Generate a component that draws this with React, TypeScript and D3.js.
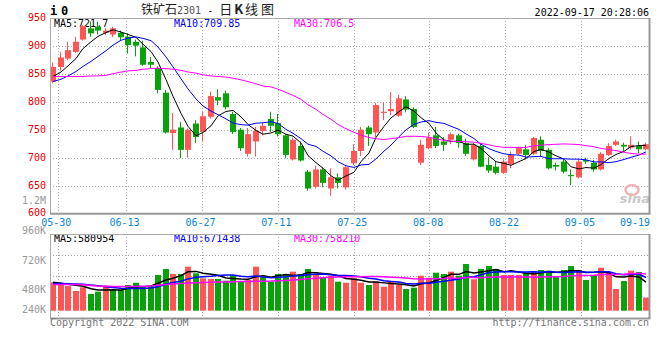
import React from "react";
import * as d3 from "d3";

const dates = [
  "05-27","05-30","05-31","06-01","06-02","06-06","06-07","06-08","06-09","06-10",
  "06-13","06-14","06-15","06-16","06-17","06-20","06-21","06-22","06-23","06-24",
  "06-27","06-28","06-29","06-30","07-01","07-04","07-05","07-06","07-07","07-08",
  "07-11","07-12","07-13","07-14","07-15","07-18","07-19","07-20","07-21","07-22",
  "07-25","07-26","07-27","07-28","07-29","08-01","08-02","08-03","08-04","08-05",
  "08-08","08-09","08-10","08-11","08-12","08-15","08-16","08-17","08-18","08-19",
  "08-22","08-23","08-24","08-25","08-26","08-29","08-30","08-31","09-01","09-02",
  "09-05","09-06","09-07","09-08","09-09","09-13","09-14","09-15","09-16","09-19",
];
const opens = [
  836,862,877,889,911,931,934,923,920,923,
  916,907,897,871,860,816,744,754,714,761,
  746,773,808,815,778,750,707,729,748,769,
  762,740,697,721,675,648,679,645,665,647,
  690,712,754,745,780,783,775,804,787,691,
  717,740,729,732,740,726,697,721,687,684,
  673,689,707,715,707,732,714,687,693,669,
  665,696,691,679,705,723,723,718,721,715,
];
const highs = [
  870,889,907,916,937,943,943,931,934,927,
  922,911,909,880,863,821,780,764,752,767,
  782,818,822,820,782,753,753,755,762,782,
  778,742,736,729,678,685,683,681,672,685,
  724,755,757,798,798,817,812,810,790,732,
  745,755,737,745,743,734,726,726,701,694,
  697,711,720,723,737,738,717,691,696,679,
  697,700,696,710,726,732,727,738,729,727,
];
const lows = [
  833,855,874,887,909,916,920,919,915,910,
  886,881,864,860,815,743,714,699,700,726,
  730,770,794,786,742,712,702,702,740,746,
  738,699,695,693,641,645,647,632,645,643,
  687,703,721,737,767,776,773,781,753,687,
  715,717,712,724,718,703,695,683,673,670,
  671,681,705,697,705,703,679,677,672,651,
  663,689,675,677,703,721,711,715,708,713,
];
const closes = [
  862,879,892,907,935,922,927,927,931,915,
  901,900,866,866,821,745,750,714,750,737,
  774,810,802,790,746,717,742,748,757,757,
  742,705,732,695,645,679,655,665,655,683,
  712,750,742,794,782,787,806,786,755,723,
  736,721,723,742,726,707,723,684,677,673,
  693,705,717,705,735,712,681,684,675,667,
  693,693,679,707,721,729,720,723,715,724,
];
// volume in thousands of lots
const volumes = [
  577,522,501,400,475,339,386,508,420,434,
  522,568,475,501,725,847,745,745,893,759,
  658,644,644,609,725,589,623,893,711,589,
  745,745,792,745,847,725,670,711,589,568,
  658,568,522,589,487,589,522,441,467,711,
  670,771,745,792,711,948,637,847,907,847,
  725,725,725,771,792,826,812,690,826,907,
  826,623,725,873,780,441,603,812,786,264,
];
// volume bar direction as coloured in the chart (1 = red, 0 = green)
const volumeUp = [
  1,1,1,1,1,0,0,1,0,0,
  0,0,0,0,0,0,1,0,1,0,
  1,1,0,0,0,0,1,1,0,0,
  0,0,1,0,0,1,0,1,0,1,
  1,1,0,1,1,1,1,0,0,1,
  1,0,0,1,0,0,1,0,0,0,
  1,1,1,0,1,0,0,0,0,0,
  1,0,0,1,1,1,0,1,0,1,
];
// moving-average values before enough in-window closes exist
const ma5Lead = [845, 853, 864, 877];
const ma10Lead = [836, 840, 846, 854, 863, 872, 881, 891, 901];
const ma30Lead = [845,845,845,845,845,846,846,847,850,853,855,856,858,859,860,859,858,856,853,851,848,846,845,844,842,839,836,832,828];
const vma5Lead = [577, 558, 538, 518];
const vma10Lead = [552, 552, 548, 544, 538, 524, 508, 487, 471];
const vma30Lead = [532,532,532,532,528,512,499,495,491,491,493,495,497,503,516,532,544,552,560,568,572,577,581,585,589,593,595,597,599];

const priceTicks = [950, 900, 850, 800, 750, 700, 650, 600];
const volTicks = [1200, 960, 720, 480, 240];
const volTickLabels = ["1.2M", "960K", "720K", "480K", "240K"];
const dateTicks = ["05-30","06-13","06-27","07-11","07-25","08-08","08-22","09-05","09-19"];

const maLabels = ["MA5:721.7", "MA10:709.85", "MA30:706.5"];
const vmaLabels = ["MA5:580954", "MA10:671438", "MA30:758210"];
const maColors = ["#000000", "#0000ff", "#ff00ff"];

function movingAvg(vals: number[], n: number, lead: number[]) {
  return vals.map((_, i) => (i < n - 1 ? lead[i] : (d3.mean(vals.slice(i - n + 1, i + 1)) as number)));
}

const MONO = "DejaVu Sans Mono, Liberation Mono, monospace";
const CJK = "Noto Sans CJK SC, sans-serif";
const RED = "#ff5555";
const GREEN = "#08a308";

export default function App() {
  const L = 50, R = 649.5;
  const MT = 18, MB = 213.7;
  const VT = 234, VB = 318.5, VBASE = 310.7;
  const n = dates.length;

  const x = d3.scaleBand<number>().domain(d3.range(n)).range([L, R]).paddingInner(0.2).paddingOuter(0);
  const gridX = d3.scaleLinear().domain([0, n - 1]).range([L, R]);
  const y = d3.scaleLinear().domain([600, 950]).range([MB, 17.7]);
  const vy = d3.scaleLinear().domain([0, 1557]).range([VBASE, VT]);
  const volLabelY = d3.scaleLinear().domain([240, 1200]).range([323, 204]);

  const bw = 6;
  const left = (i: number) => Math.round(x(i) as number);
  const cx = (i: number) => left(i) + 3;

  const ma = [movingAvg(closes, 5, ma5Lead), movingAvg(closes, 10, ma10Lead), movingAvg(closes, 30, ma30Lead)];
  const vma = [movingAvg(volumes, 5, vma5Lead), movingAvg(volumes, 10, vma10Lead), movingAvg(volumes, 30, vma30Lead)];

  const priceLine = d3.line<number>().x((_, i) => cx(i)).y((d) => y(d));
  const volLine = d3.line<number>().x((_, i) => cx(i)).y((d) => vy(d));

  const tickIdx = dateTicks.map((d) => dates.indexOf(d));
  const grid = "#aaaaaa";

  return (
    <svg width={660} height={360} style={{ position: "absolute", left: 0, top: 0, background: "#fff" }}>
      <rect x={0} y={0} width={660} height={360} fill="#fff" />
      {/* header */}
      <text x={50} y={15} fontFamily={MONO} fontSize={12} fontWeight="bold" fill="#000">i</text>
      <text x={61} y={15} fontFamily={MONO} fontSize={12} fontWeight="bold" fill="#000">0</text>
      <text x={141} y={14} fontFamily={CJK} fontSize={12} fill="#222">
        铁矿石
        <tspan fontFamily={MONO} fontSize={10} fill="#555">2301</tspan>
        <tspan fontFamily={MONO} fontSize={10} fill="#222"> - </tspan>
        <tspan fontSize={13} letterSpacing={2}>日</tspan>
        <tspan fontSize={13} fontWeight="bold" letterSpacing={2}>K</tspan>
        <tspan fontSize={13} letterSpacing={3}>线图</tspan>
      </text>
      <text x={649} y={16} textAnchor="end" fontFamily={MONO} fontSize={10} fill="#000">2022-09-17 20:28:06</text>

      {/* price grid */}
      {priceTicks.filter((t) => t < 950 && t > 600).map((t) => (
        <line key={"hg" + t} x1={L} x2={R} y1={Math.round(y(t)) + 0.5} y2={Math.round(y(t)) + 0.5} stroke={grid} strokeDasharray="1,2" />
      ))}
      {tickIdx.filter((i) => i > 0 && i < n - 1).map((i) => (
        <line key={"vg" + i} x1={Math.round(gridX(i)) + 0.5} x2={Math.round(gridX(i)) + 0.5} y1={MT} y2={MB} stroke={grid} strokeDasharray="1,2" />
      ))}
      {/* volume grid */}
      {[1, 2, 3].map((k) => {
        const yy = Math.round(VT + (k * (VB - VT)) / 4) + 0.5;
        return <line key={"vh" + k} x1={L} x2={R} y1={yy} y2={yy} stroke={grid} strokeDasharray="1,2" />;
      })}
      {tickIdx.filter((i) => i > 0 && i < n - 1).map((i) => (
        <line key={"vvg" + i} x1={Math.round(gridX(i)) + 0.5} x2={Math.round(gridX(i)) + 0.5} y1={VT} y2={VB} stroke={grid} strokeDasharray="1,2" />
      ))}

      {/* price axis labels */}
      {priceTicks.map((t) => (
        <text key={"pt" + t} x={46} y={Math.min(Math.max(y(t) + 3.3, 19.3), 215.7)} textAnchor="end" fontFamily={MONO} fontSize={10} fill="#e60000">{t}</text>
      ))}
      {volTicks.map((t, k) => (
        <text key={"vt" + t} x={46} y={Math.min(volLabelY(t), 313.3)} textAnchor="end" fontFamily={MONO} fontSize={10} fill="#999">{volTickLabels[k]}</text>
      ))}
      {/* date labels */}
      {tickIdx.map((i, k) => {
        const last = i === n - 1;
        return (
          <text key={"dt" + k} x={last ? 650 : gridX(i) - 1.3} y={225.6} textAnchor={last ? "end" : "middle"} fontFamily={MONO} fontSize={10} fill="#0a86dc">{dateTicks[k]}</text>
        );
      })}

      {/* MA labels */}
      {maLabels.map((s, k) => (
        <text key={"ml" + k} x={54 + k * 120} y={26.5} fontFamily={MONO} fontSize={10} fill={maColors[k]}>{s}</text>
      ))}
      {vmaLabels.map((s, k) => (
        <text key={"vl" + k} x={54 + k * 120} y={241.5} fontFamily={MONO} fontSize={10} fill={maColors[k]}>{s}</text>
      ))}

      {/* watermark */}
      <ellipse cx={632} cy={190} rx={6.5} ry={5} fill="none" stroke="#f2b4b4" strokeWidth={2.5} />
      <text x={650} y={203} textAnchor="end" fontFamily="DejaVu Sans, sans-serif" fontSize={13} fontStyle="italic" fontWeight="bold" fill="#c8c8c8">sina</text>

      {/* candles */}
      {dates.map((_, i) => {
        const up = closes[i] >= opens[i];
        const c = up ? RED : GREEN;
        const top = y(Math.max(opens[i], closes[i]));
        const bot = y(Math.min(opens[i], closes[i]));
        return (
          <g key={"c" + i}>
            <line x1={left(i) + 2.5} x2={left(i) + 2.5} y1={y(highs[i])} y2={y(lows[i])} stroke={c} strokeWidth={1} />
            <rect x={left(i)} y={top} width={bw} height={Math.max(1, bot - top)} fill={c} />
          </g>
        );
      })}
      {ma.map((arr, k) => (
        <path key={"ma" + k} d={priceLine(arr) as string} fill="none" stroke={maColors[k]} strokeWidth={1} />
      ))}

      {/* volume bars */}
      {volumes.map((v, i) => (
        <rect key={"v" + i} x={left(i)} y={vy(v)} width={bw} height={VBASE - vy(v)} fill={volumeUp[i] ? RED : GREEN} />
      ))}
      {vma.map((arr, k) => (
        <path key={"vma" + k} d={volLine(arr) as string} fill="none" stroke={maColors[k]} strokeWidth={1.5} />
      ))}

      {/* frames */}
      <line x1={L} x2={R} y1={MT + 0.5} y2={MT + 0.5} stroke="#aaa" />
      <line x1={L + 0.5} x2={L + 0.5} y1={MT} y2={MB} stroke="#aaa" />
      <line x1={L} x2={R + 1} y1={MB} y2={MB} stroke="#999" strokeWidth={2} />
      <line x1={R} x2={R} y1={MT} y2={MB} stroke="#999" strokeWidth={2} />
      <line x1={L} x2={R} y1={VT + 0.5} y2={VT + 0.5} stroke="#aaa" />
      <line x1={L + 0.5} x2={L + 0.5} y1={VT} y2={VB} stroke="#aaa" />
      <line x1={L} x2={R + 1} y1={VB} y2={VB} stroke="#999" strokeWidth={2} />
      <line x1={R} x2={R} y1={VT} y2={VB} stroke="#999" strokeWidth={2} />

      {/* footer */}
      <text x={50} y={326} fontFamily={MONO} fontSize={10} fill="#777">Copyright 2022 SINA.COM</text>
      <text x={649} y={326} textAnchor="end" fontFamily={MONO} fontSize={10} fill="#777">http://finance.sina.com.cn</text>
    </svg>
  );
}
